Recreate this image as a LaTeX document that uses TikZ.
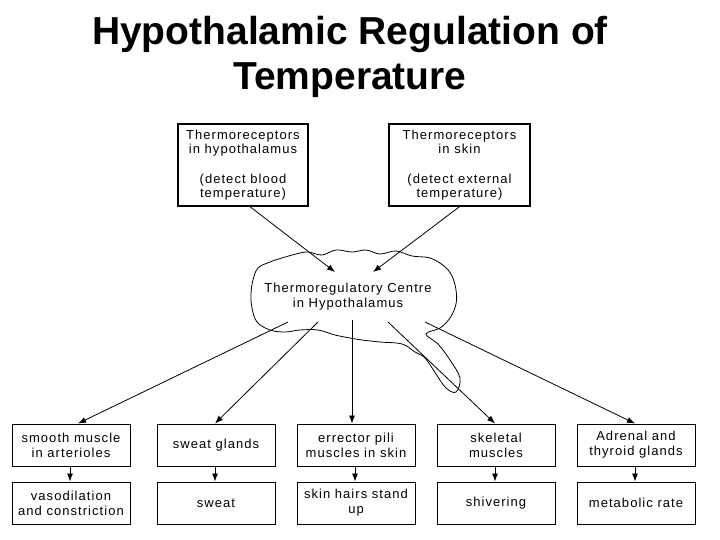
\documentclass[tikz,border=0pt]{standalone}
\usepackage{fontspec}
\setmainfont{Liberation Sans}
\newfontfamily\spaced[LetterSpace=8]{Liberation Sans}
\usetikzlibrary{arrows.meta}
\begin{document}
\begin{tikzpicture}[x=1pt,y=-1pt,
  bx/.style={draw,line width=1pt,minimum width=118pt,minimum height=42pt,align=center,inner sep=1pt,font=\spaced\fontsize{13}{15}\selectfont},
  tb/.style={draw,line width=1.4pt,minimum height=82pt,align=center,inner sep=2pt,font=\spaced\fontsize{13}{14}\selectfont},
  ar/.style={-{Latex[length=8pt,width=6pt]},line width=0.8pt}]
\useasboundingbox (0,0) rectangle (720,540);
\node[font=\bfseries\fontsize{39}{45}\selectfont,align=center] (title) at (350,57) {Hypothalamic Regulation of\\Temperature};
\node[tb,minimum width=130pt] (th) at (243,165) {Thermoreceptors\\in hypothalamus\\[16pt](detect blood\\temperature)};
\node[tb,minimum width=141pt] (ts) at (459.5,165) {Thermoreceptors\\in skin\\[16pt](detect external\\temperature)};
\draw[line width=0.8pt] plot[smooth cycle,tension=0.6] coordinates {
 (258,268)(270,262)(282,258)(296,254)(308,252)(322,255)(336,250)(352,252)(366,250)(380,254)(396,251)(412,256)(430,258)(444,266)(452,276)(456,290)(456,304)(450,318)(440,328)(426,334)(438,344)(450,360)(460,378)(456,392)(446,388)(436,374)(425,358)(415,352)(402,344)(380,342)(362,340)(350,338)(335,335)(318,330)(300,330)(285,332)(270,330)(257,322)(252,308)(251,294)(253,280)};
\node[font=\spaced\fontsize{13}{15}\selectfont,align=center] (c) at (348,297) {Thermoregulatory Centre\\in Hypothalamus};
\coordinate (ca) at (335,272); \coordinate (cb) at (373,272);
\draw[ar] (th.south)++(7,0) coordinate (p1) -- (ca);
\draw[ar] (ts.south)++(0,0) coordinate (p2) -- (cb);
\foreach \i/\x/\a/\b/\sx in {1/71/smooth muscle/in arterioles/288,2/216/sweat glands//318,3/356/errector pili/muscles in skin/352,4/496/skeletal/muscles/388,5/636/Adrenal and/thyroid glands/425}{
  \ifnum\i=2 \node[bx] (u\i) at (\x,445) {sweat glands};\else\node[bx] (u\i) at (\x,445) {\a\\\b};\fi
  \coordinate (s\i) at (\sx,322);
}
\node[bx] (d1) at (71,503) {vasodilation\\and constriction};
\node[bx] (d2) at (216,503) {sweat};
\node[bx] (d3) at (356,503) {skin hairs stand\\up};
\node[bx] (d4) at (496,503) {shivering};
\node[bx] (d5) at (636,503) {metabolic rate};
\draw[ar] (s1) -- ([xshift=7pt]u1.north);
\draw[ar] (s2) -- ([xshift=-1pt]u2.north);
\draw[ar] (352,320) coordinate (s3b) -- ([xshift=-4pt]u3.north);
\draw[ar] (s4) -- ([xshift=-1pt]u4.north);
\draw[ar] (s5) -- ([xshift=-1pt]u5.north);
\foreach \i in {1,...,5}{\draw[ar] ([xshift=-1pt]u\i.south) -- ([xshift=-1pt]d\i.north);}
\end{tikzpicture}
\end{document}
